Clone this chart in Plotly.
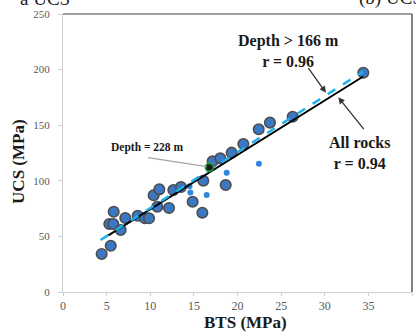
import plotly.graph_objects as go

# Large markers (all rocks)
bts_big = [4.43, 5.47, 5.31, 5.77, 5.81, 6.61, 7.14, 8.56, 9.40, 9.86, 10.39, 11.04, 10.81,
           12.15, 12.65, 13.52, 14.86, 15.97, 16.08, 17.15, 18.03, 19.33, 20.67, 18.65,
           22.43, 23.72, 26.32, 34.42]
ucs_big = [34.2, 41.6, 61.2, 61.2, 72.2, 55.8, 66.5, 68.6, 66.3, 66.3, 87.0, 92.3, 76.7,
           75.5, 91.7, 94.4, 81.2, 71.3, 100.1, 117.5, 120.2, 125.3, 133.1, 96.2,
           146.3, 152.3, 157.6, 197.2]
# Small markers
bts_small = [14.5, 14.6, 16.47, 18.76, 22.45]
ucs_small = [95.0, 89.5, 87.2, 107.3, 115.4]
# Highlighted sample (Depth = 228 m)
bts_hl = [16.77]
ucs_hl = [112.1]
# Fit lines (endpoints)
fit_all_x = [5.2, 34.4]
fit_all_y = [51.0, 193.8]
fit_deep_x = [4.3, 34.4]
fit_deep_y = [46.8, 198.3]

x_ticks = [0, 5, 10, 15, 20, 25, 30, 35, 40]
y_ticks = [0, 50, 100, 150, 200, 250]

SERIF = "Liberation Serif, Times New Roman, serif"

fig = go.Figure()
fig.add_trace(go.Scatter(x=bts_big, y=ucs_big, mode="markers",
                         marker=dict(size=10.5, color="#3b78c4",
                                     line=dict(color="#4d4d4d", width=1.6)),
                         showlegend=False))
fig.add_trace(go.Scatter(x=bts_small, y=ucs_small, mode="markers",
                         marker=dict(size=6, color="#2f86dc"), showlegend=False))
fig.add_trace(go.Scatter(x=fit_all_x, y=fit_all_y, mode="lines",
                         line=dict(color="#000000", width=2), showlegend=False))
fig.add_trace(go.Scatter(x=fit_deep_x, y=fit_deep_y, mode="lines",
                         line=dict(color="#1fb0ec", width=2.5, dash="dash"), showlegend=False))
fig.add_trace(go.Scatter(x=bts_hl, y=ucs_hl, mode="markers",
                         marker=dict(size=8, color="#1a1a1a",
                                     line=dict(color="#1fa030", width=1.6)),
                         showlegend=False))

ann_font = dict(family=SERIF, size=16, color="#1a1a1a")
# label texts
fig.add_annotation(x=25.79, y=216.7, xref="x", yref="y", showarrow=False,
                   text="<b>Depth > 166 m<br>r = 0.96</b>", font=ann_font)
fig.add_annotation(x=33.96, y=125.0, xref="x", yref="y", showarrow=False,
                   text="<b>All rocks<br>r = 0.94</b>", font=ann_font)
fig.add_annotation(x=9.59, y=130.1, xref="x", yref="y", showarrow=False,
                   text="<b>Depth = 228 m</b>",
                   font=dict(family=SERIF, size=11.5, color="#1a1a1a"))
# arrows
fig.add_annotation(x=30.14, y=179.2, ax=28.0, ay=202.6, xref="x", yref="y",
                   axref="x", ayref="y", text="", showarrow=True, arrowhead=2,
                   arrowsize=1, arrowwidth=1.3, arrowcolor="#333333", standoff=0)
fig.add_annotation(x=31.55, y=175.1, ax=34.61, ay=145.1, xref="x", yref="y",
                   axref="x", ayref="y", text="", showarrow=True, arrowhead=2,
                   arrowsize=1, arrowwidth=1.3, arrowcolor="#333333", standoff=0)
fig.add_annotation(x=16.47, y=112.7, ax=9.59, ay=121.1, xref="x", yref="y",
                   axref="x", ayref="y", text="", showarrow=True, arrowhead=0,
                   arrowwidth=1.2, arrowcolor="#a6a6a6", standoff=0)

# axis titles
fig.add_annotation(x=0.5215, y=-0.108, xref="paper", yref="paper", showarrow=False,
                   xanchor="center", yanchor="middle",
                   text="<b>BTS (MPa)</b>",
                   font=dict(family=SERIF, size=17, color="#1a1a1a"))
fig.add_annotation(x=-0.126, y=0.468, xref="paper", yref="paper", showarrow=False,
                   xanchor="center", yanchor="middle",
                   text="<b>UCS (MPa)</b>", textangle=-90,
                   font=dict(family=SERIF, size=17, color="#1a1a1a"))

# partially visible header texts
fig.add_annotation(x=0.026, y=1.0, xref="paper", yref="paper", xanchor="right",
                   yanchor="bottom", yshift=3, text="a UCS", showarrow=False,
                   font=dict(family=SERIF, size=19, color="#1a1a1a"))
fig.add_annotation(x=0.842, y=1.0, xref="paper", yref="paper", xanchor="left",
                   yanchor="bottom", yshift=3, text="(b) UCS", showarrow=False,
                   font=dict(family=SERIF, size=19, color="#1a1a1a"))

# frame top and right
fig.add_shape(type="line", xref="paper", yref="paper", x0=0, x1=1, y0=1, y1=1,
              line=dict(color="#7f7f7f", width=1.5))
fig.add_shape(type="line", xref="paper", yref="paper", x0=1, x1=1, y0=0, y1=1,
              line=dict(color="#595959", width=1.5))

fig.update_xaxes(range=[0, 40], tickvals=x_ticks, showgrid=False, zeroline=False,
                 showline=True, linecolor="#d0d0d0", linewidth=1,
                 ticks="outside", ticklen=3, tickcolor="#d0d0d0",
                 tickfont=dict(family=SERIF, size=12, color="#595959"))
fig.update_yaxes(range=[0, 250], tickvals=y_ticks, showgrid=False, zeroline=False,
                 showline=True, linecolor="#d0d0d0", linewidth=1,
                 ticks="outside", ticklen=4, tickcolor="#d0d0d0",
                 ticklabelstandoff=6,
                 tickfont=dict(family=SERIF, size=11, color="#595959"))

fig.update_layout(width=416, height=333, margin=dict(l=63, r=4, t=14, b=41),
                  plot_bgcolor="white", paper_bgcolor="white")
fig.write_html("out.html")
